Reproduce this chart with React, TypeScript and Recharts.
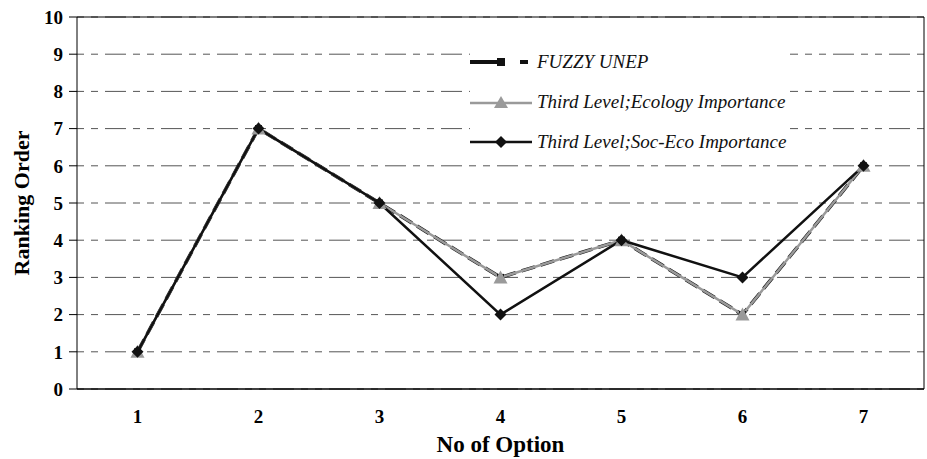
import React from 'react';
import {
  LineChart,
  Line,
  XAxis,
  YAxis,
  CartesianGrid,
  ReferenceLine,
  Label,
} from 'recharts';

const options = [1, 2, 3, 4, 5, 6, 7];
const fuzzyUnep = [1, 7, 5, 3, 4, 2, 6];
const ecologyImportance = [1, 7, 5, 3, 4, 2, 6];
const socEcoImportance = [1, 7, 5, 2, 4, 3, 6];
const yTicks = [0, 1, 2, 3, 4, 5, 6, 7, 8, 9, 10];
const boundaryTicks = [0.5, 1.5, 2.5, 3.5, 4.5, 5.5, 6.5, 7.5];

const data = options.map((o, i) => ({
  option: o,
  fuzzy: fuzzyUnep[i],
  ecology: ecologyImportance[i],
  socEco: socEcoImportance[i],
}));

const FONT = '"Liberation Serif", "Times New Roman", serif';
const GRAY = '#9a9a9a';

const SquareDot = (props: any) => {
  const { cx, cy, key } = props;
  return <rect key={key} x={cx - 3.5} y={cy - 3.5} width={7} height={7} fill="#111" />;
};

const TriangleDot = (props: any) => {
  const { cx, cy, key } = props;
  return <path key={key} d={`M${cx},${cy - 7} L${cx + 7},${cy + 6} L${cx - 7},${cy + 6} Z`} fill={GRAY} />;
};

const DiamondDot = (props: any) => {
  const { cx, cy, key } = props;
  return <path key={key} d={`M${cx},${cy - 6} L${cx + 6},${cy} L${cx},${cy + 6} L${cx - 6},${cy} Z`} fill="#111" />;
};

const legendItems = [
  { name: 'FUZZY UNEP', kind: 'fuzzy' },
  { name: 'Third Level;Ecology Importance', kind: 'ecology' },
  { name: 'Third Level;Soc-Eco Importance', kind: 'socEco' },
];

function LegendIcon({ kind }: { kind: string }) {
  if (kind === 'fuzzy') {
    return (
      <svg width={64} height={14}>
        <line x1={0} y1={7} x2={30} y2={7} stroke="#111" strokeWidth={4} />
        <rect x={27} y={3} width={8} height={8} fill="#111" />
        <line x1={50} y1={7} x2={58} y2={7} stroke="#111" strokeWidth={4} />
      </svg>
    );
  }
  if (kind === 'ecology') {
    return (
      <svg width={64} height={14}>
        <line x1={0} y1={8} x2={62} y2={8} stroke={GRAY} strokeWidth={2.5} />
        <path d="M31,1 L38,13 L24,13 Z" fill={GRAY} />
      </svg>
    );
  }
  return (
    <svg width={64} height={14}>
      <line x1={0} y1={7} x2={62} y2={7} stroke="#111" strokeWidth={2.5} />
      <path d="M31,1 L37,7 L31,13 L25,7 Z" fill="#111" />
    </svg>
  );
}

function ChartLegend() {
  return (
    <div
      style={{
        position: 'absolute',
        left: 470,
        top: 42,
        background: '#fff',
        fontFamily: FONT,
        fontStyle: 'italic',
        fontSize: 19,
        color: '#111',
        paddingRight: 4,
      }}
    >
      {legendItems.map((it) => (
        <div key={it.kind} style={{ display: 'flex', alignItems: 'center', height: 40 }}>
          <LegendIcon kind={it.kind} />
          <span style={{ marginLeft: 3 }}>{it.name}</span>
        </div>
      ))}
    </div>
  );
}

export default function App() {
  return (
    <div style={{ position: 'absolute', left: 0, top: 0, width: 927, height: 459, background: '#fff' }}>
      <LineChart width={927} height={459} data={data} margin={{ top: 17, right: 3, left: 0, bottom: 0 }}>
        <CartesianGrid
          xAxisId="main"
          vertical={false}
          stroke="#555"
          strokeDasharray="7 7 7 7 21 7"
        />
        <XAxis
          xAxisId="bnd"
          type="number"
          dataKey="option"
          domain={[0.5, 7.5]}
          ticks={boundaryTicks}
          tickFormatter={() => ''}
          height={0}
          axisLine={false}
          tickLine={{ stroke: '#000' }}
          tickSize={6}
        />
        <XAxis
          xAxisId="main"
          type="number"
          dataKey="option"
          domain={[0.5, 7.5]}
          ticks={options}
          tickLine={false}
          axisLine={{ stroke: '#000', strokeWidth: 1.5 }}
          tickSize={6}
          tickMargin={15}
          height={70}
          tick={{ fontFamily: FONT, fontWeight: 'bold', fontSize: 19, fill: '#000' }}
        >
          <Label
            value="No of Option"
            position="center"
            dy={20}
            style={{ fontFamily: FONT, fontWeight: 'bold', fontSize: 23, fill: '#000' }}
          />
        </XAxis>
        <YAxis
          domain={[0, 10]}
          ticks={yTicks}
          interval={0}
          width={77}
          axisLine={{ stroke: '#000' }}
          tickLine={{ stroke: '#000' }}
          tickSize={8}
          tickMargin={6}
          tick={{ fontFamily: FONT, fontWeight: 'bold', fontSize: 19, fill: '#000' }}
        >
          <Label
            value="Ranking Order"
            angle={-90}
            position="center"
            dx={-17}
            style={{ fontFamily: FONT, fontWeight: 'bold', fontSize: 22, fill: '#000' }}
          />
        </YAxis>
        <ReferenceLine xAxisId="main" y={10} stroke="#000" strokeWidth={1} />
        <ReferenceLine xAxisId="main" x={7.5} stroke="#000" strokeWidth={1} />
        <Line
          xAxisId="main"
          type="linear"
          dataKey="fuzzy"
          name="FUZZY UNEP"
          stroke="#111"
          strokeWidth={3.5}
          strokeDasharray="14 6"
          dot={SquareDot}
          activeDot={false}
          isAnimationActive={false}
        />
        <Line
          xAxisId="main"
          type="linear"
          dataKey="ecology"
          name="Third Level;Ecology Importance"
          stroke={GRAY}
          strokeWidth={2.5}
          dot={TriangleDot}
          activeDot={false}
          isAnimationActive={false}
        />
        <Line
          xAxisId="main"
          type="linear"
          dataKey="socEco"
          name="Third Level;Soc-Eco Importance"
          stroke="#111"
          strokeWidth={2.5}
          dot={DiamondDot}
          activeDot={false}
          isAnimationActive={false}
        />
      </LineChart>
      <ChartLegend />
    </div>
  );
}
